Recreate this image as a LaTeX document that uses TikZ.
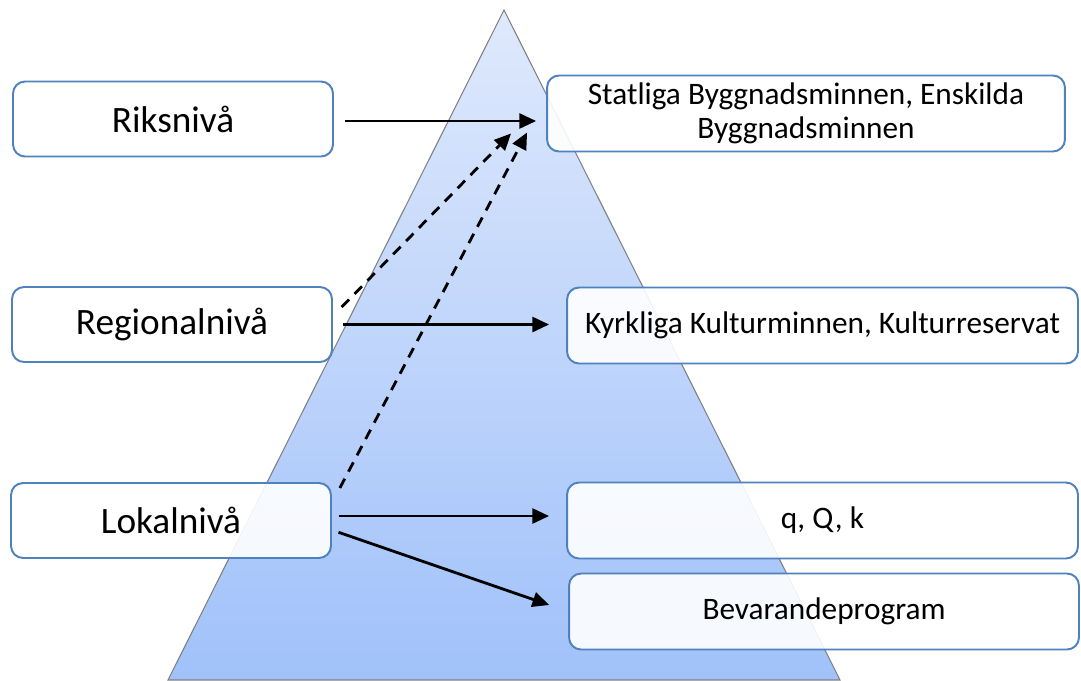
\documentclass[tikz,border=0pt]{standalone}
\usepackage{fontspec}
\setmainfont{Carlito}
\usetikzlibrary{arrows.meta,calc}

\definecolor{boxblue}{RGB}{79,129,189}
\definecolor{pyrtop}{RGB}{223,233,252}
\definecolor{pyrbot}{RGB}{160,193,250}

\begin{document}
\begin{tikzpicture}[x=0.02cm,y=-0.02cm,
	lvl/.style={draw=boxblue,line width=1.1pt,rounded corners=0.24cm,fill=white,fill opacity=0.9,text opacity=1,
		minimum width=6.4cm,minimum height=1.5cm,font=\fontsize{21.2}{24}\selectfont},
	res/.style={draw=boxblue,line width=1.1pt,rounded corners=0.24cm,fill=white,fill opacity=0.9,text opacity=1,
		minimum width=10.22cm,minimum height=1.52cm,align=center,font=\fontsize{17.8}{19.5}\selectfont},
	arr/.style={-{Triangle[length=9.5pt,width=8.5pt]},line width=1.6pt},
	darr/.style={arr,dash pattern=on 6pt off 4.5pt}]
	\useasboundingbox (0,0) rectangle (1081,680);
	% pyramid
	\draw[draw=gray,line width=0.6pt,top color=pyrtop,bottom color=pyrbot] (504,10) -- (840,680) -- (168,680) -- cycle;
	% levels
	\node[lvl] (riks) at (173,119) {Riksnivå};
	\node[lvl] (regional) at (172,324.5) {Regionalnivå};
	\node[lvl] (lokal) at (171,520.5) {Lokalnivå};
	% what each level protects
	\node[res,minimum width=10.36cm] (statliga) at (806,113.5) {Statliga Byggnadsminnen, Enskilda\\Byggnadsminnen};
	\node[res] (kyrkliga) at (822.5,325.5) {Kyrkliga Kulturminnen, Kulturreservat};
	\node[res] (qqk) at (822.5,520.5) {q, Q, k};
	\node[res,minimum width=10.2cm] (bevar) at (824,611.5) {Bevarandeprogram};
	% arrows
	\draw[arr,shorten <=0.22cm,shorten >=0.2cm] ([yshift=-0.04cm]riks.east) -- ([yshift=-0.04cm]riks.east -| statliga.west);
	\draw[arr,shorten <=0.2cm,shorten >=0.34cm] (regional.east) -- (regional.east -| kyrkliga.west);
	\draw[arr,shorten <=0.14cm,shorten >=0.34cm] ([yshift=0.09cm]lokal.east) -- ([yshift=0.09cm]lokal.east -| qqk.west);
	\draw[arr,shorten <=0.14cm,shorten >=0.4cm] ([yshift=-0.19cm]lokal.east) -- (bevar.west);
	\draw[darr,shorten <=0.25cm] ([yshift=0.17cm]regional.east) -- ($(statliga.south west)+(-35,-19)$);
	\draw[darr,shorten <=0.34cm] ([yshift=0.35cm]lokal.east) -- ($(statliga.south west)+(-19,-20)$);
\end{tikzpicture}
\end{document}
